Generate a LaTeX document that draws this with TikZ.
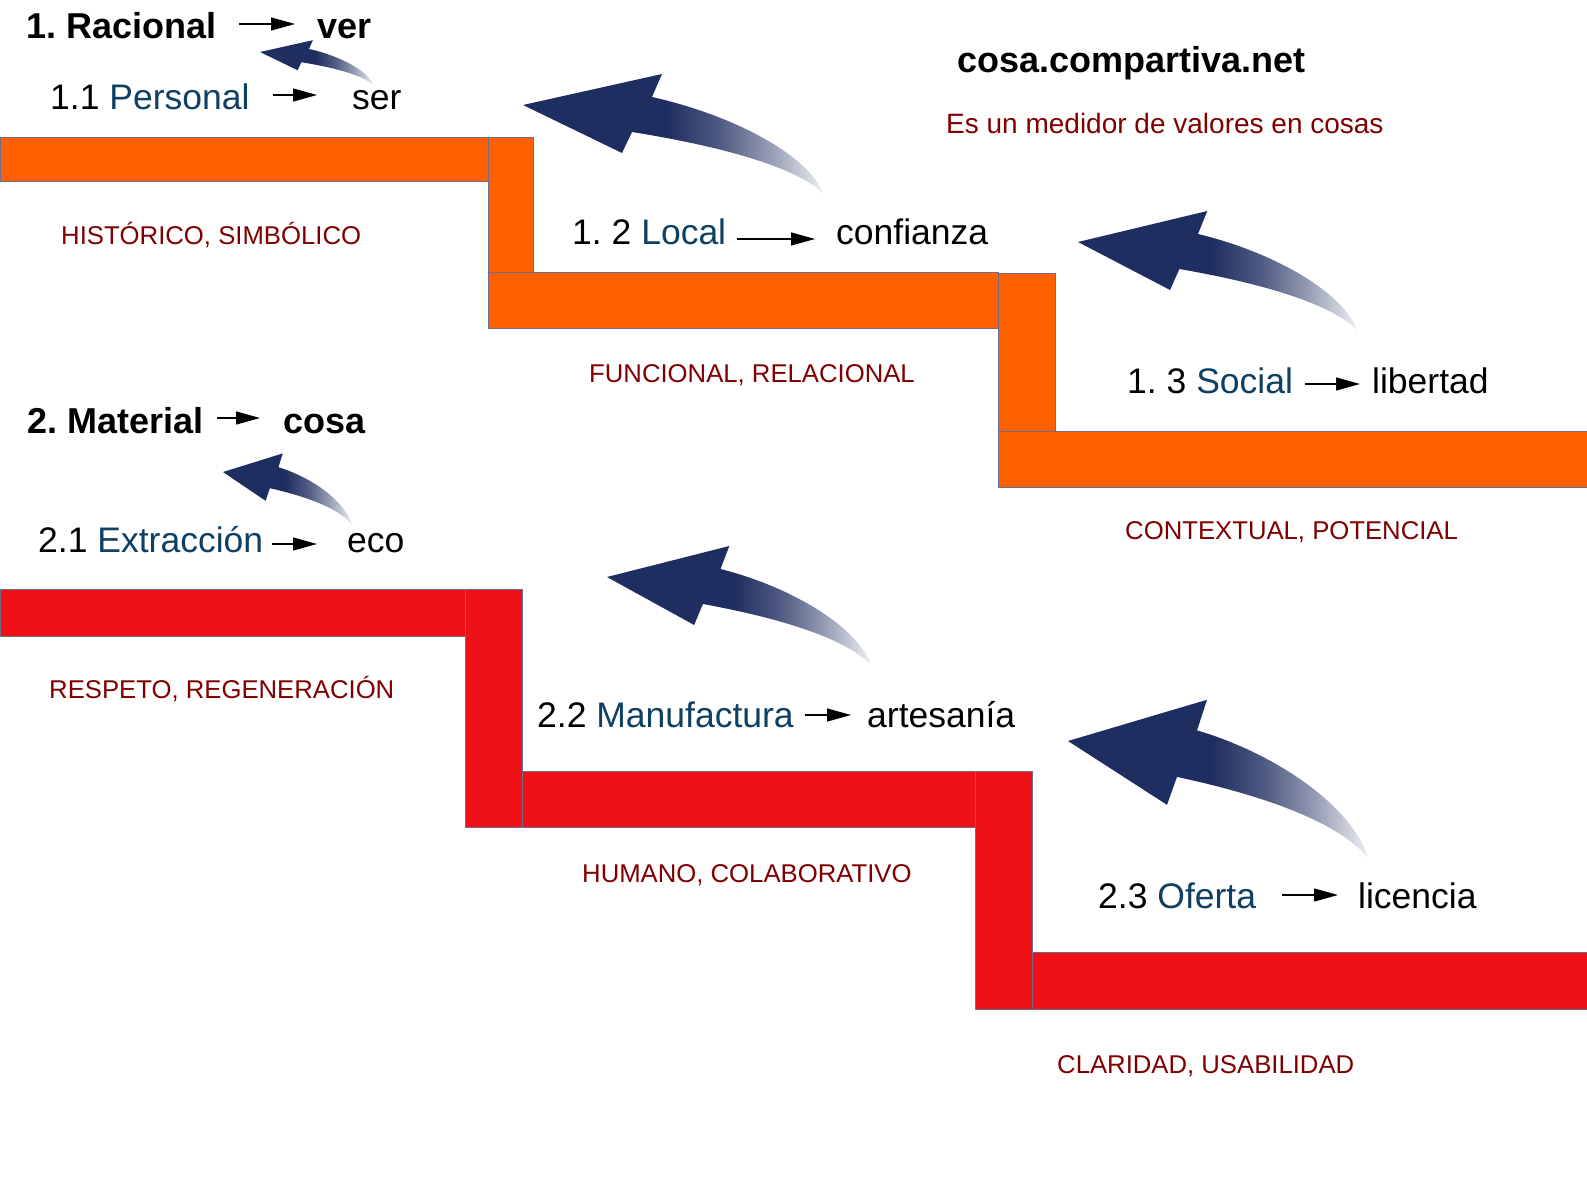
\documentclass[tikz,border=0pt]{standalone}
\usepackage{fontspec}
\setmainfont{Liberation Sans}
\usetikzlibrary{arrows.meta}
\definecolor{orng}{RGB}{255,96,0}
\definecolor{rd}{RGB}{238,17,23}
\definecolor{edgec}{RGB}{110,110,140}
\definecolor{navyA}{RGB}{31,46,96}
\definecolor{blu}{RGB}{14,64,100}
\definecolor{drd}{RGB}{128,0,0}
\pgfdeclarehorizontalshading{arrowfade}{100bp}{color(0bp)=(navyA); color(49bp)=(navyA); color(58bp)=(navyA!78!white); color(66bp)=(navyA!48!white); color(75bp)=(navyA!8!white); color(100bp)=(navyA!8!white)}
\newcommand{\curvarr}[4]{%
  \begin{scope}[shift={(#1,#2)}, xscale=#3, yscale=#4]
    \shade[shading=arrowfade] (0,0) -- (139,-31) -- (129,-8)
      .. controls (210,10) and (285,50) .. (300,88)
      .. controls (270,60) and (190,40) .. (109,27)
      -- (99,48) -- cycle;
  \end{scope}}
\begin{document}
\frenchspacing
\begin{tikzpicture}[x=1pt, y=-1pt,
  stairO/.style={fill=orng, draw=edgec, line width=0.8pt},
  stairR/.style={fill=rd, draw=edgec, line width=0.8pt},
  txt/.style={anchor=base west, inner sep=0pt, font=\fontsize{35.5}{40}\selectfont},
  headtxt/.style={anchor=base west, inner sep=0pt, font=\fontsize{36}{40}\selectfont\bfseries},
  lbl/.style={anchor=base west, inner sep=0pt, text=drd, font=\fontsize{25.7}{30}\selectfont},
  link/.style={-{Triangle[length=24pt,width=13pt]}, line width=1.3pt}]
\useasboundingbox (0,0) rectangle (1587,1190);
\fill[white] (0,0) rectangle (1587,1190);

% orange stairs
\draw[stairO] (0,137) rectangle (488,181);
\draw[stairO] (488,272) rectangle (998,328);
\draw[stairO] (488,137) rectangle (533,272);
\draw[stairO] (998,431) rectangle (1590,487);
\draw[stairO] (998,273) rectangle (1055,431);

% red stairs
\draw[stairR] (0,589) rectangle (465,636);
\draw[stairR] (465,589) rectangle (522,827);
\draw[stairR] (522,771) rectangle (975,827);
\draw[stairR] (975,771) rectangle (1032,1009);
\draw[stairR] (1032,952) rectangle (1590,1009);

% curved arrows
\curvarr{260}{52}{0.38}{0.38}
\curvarr{523}{105}{1}{1}
\curvarr{1078}{242}{0.93}{1}
\curvarr{223}{472}{0.43}{0.6}
\curvarr{607}{577}{0.88}{1}
\curvarr{1068}{741}{1}{1.33}

% texts
\node[headtxt] (rac) at (26,39) {1. Racional};
\coordinate (racA) at (239,24); \coordinate (racB) at (295,24);
\draw[link] (racA) -- (racB);
\node[headtxt] (ver) at (317,39) {ver};

\node[txt] (per) at (50,110) {1.1 \textcolor{blu}{Personal}};
\coordinate (perA) at (273,95); \coordinate (perB) at (317,95);
\draw[link] (perA) -- (perB);
\node[txt] (ser) at (352,110) {ser};

\node[headtxt] (web) at (957,73) {cosa.compartiva.net};
\node[lbl, font=\fontsize{28}{32}\selectfont] (sub) at (946,134) {Es un medidor de valores en cosas};

\node[lbl] (l1) at (61,245) {HISTÓRICO, SIMBÓLICO};
\node[txt] (loc) at (572,245) {1. 2 \textcolor{blu}{Local}};
\coordinate (locA) at (737,239); \coordinate (locB) at (815,239);
\draw[link] (locA) -- (locB);
\node[txt] (conf) at (836,245) {confianza};
\node[lbl] (l2) at (589,382) {FUNCIONAL, RELACIONAL};

\node[txt] (soc) at (1127,393) {1. 3 \textcolor{blu}{Social}};
\coordinate (socA) at (1305,384); \coordinate (socB) at (1360,384);
\draw[link] (socA) -- (socB);
\node[txt] (lib) at (1372,393) {libertad};
\node[lbl] (l3) at (1125,539) {CONTEXTUAL, POTENCIAL};

\node[headtxt] (mat) at (27,433) {2. Material};
\coordinate (matA) at (217,418); \coordinate (matB) at (260,418);
\draw[link] (matA) -- (matB);
\node[headtxt] (cosa) at (283,433) {cosa};

\node[txt] (ext) at (38,552) {2.1 \textcolor{blu}{Extracción}};
\coordinate (extA) at (272,544); \coordinate (extB) at (317,544);
\draw[link] (extA) -- (extB);
\node[txt] (eco) at (347,552) {eco};
\node[lbl] (l4) at (49,698) {RESPETO, REGENERACIÓN};

\node[txt] (man) at (537,727) {2.2 \textcolor{blu}{Manufactura}};
\coordinate (manA) at (805,715); \coordinate (manB) at (851,715);
\draw[link] (manA) -- (manB);
\node[txt] (art) at (867,727) {artesanía};
\node[lbl] (l5) at (582,882) {HUMANO, COLABORATIVO};

\node[txt] (ofe) at (1098,908) {2.3 \textcolor{blu}{Oferta}};
\coordinate (ofeA) at (1282,895); \coordinate (ofeB) at (1338,895);
\draw[link] (ofeA) -- (ofeB);
\node[txt] (lic) at (1358,908) {licencia};
\node[lbl] (l6) at (1057,1073) {CLARIDAD, USABILIDAD};
\end{tikzpicture}
\end{document}
